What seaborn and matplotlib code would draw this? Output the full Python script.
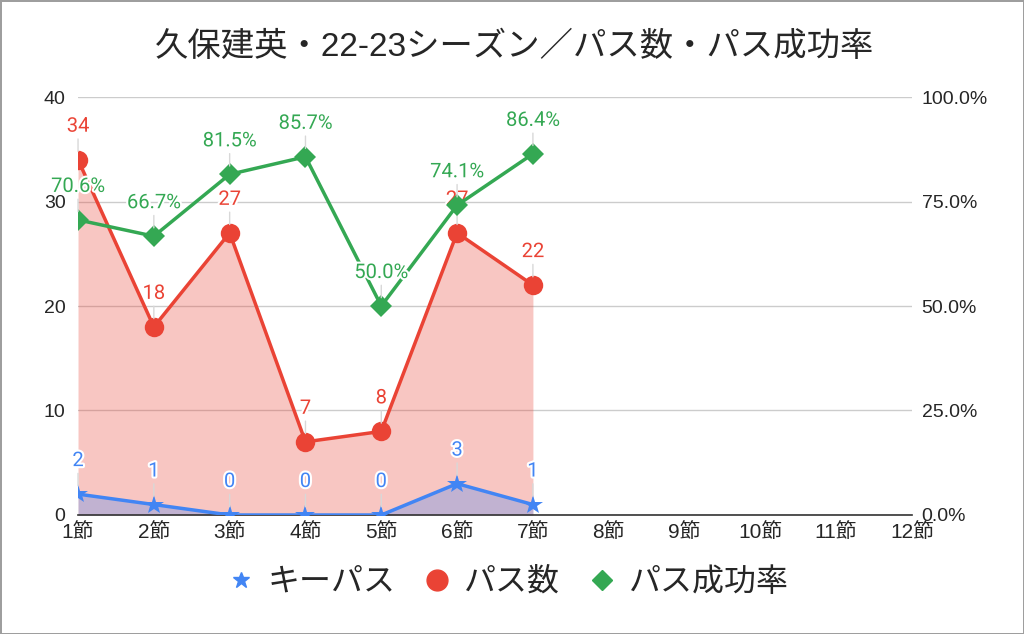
import matplotlib
matplotlib.use('Agg')
import matplotlib.pyplot as plt
import matplotlib.patheffects as pe
from matplotlib.lines import Line2D
import seaborn as sns
import pandas as pd

rounds = ['1節', '2節', '3節', '4節', '5節', '6節', '7節', '8節', '9節', '10節', '11節', '12節']
key_pass = [2, 1, 0, 0, 0, 3, 1]
passes = [34, 18, 27, 7, 8, 27, 22]
pass_rate = [70.6, 66.7, 81.5, 85.7, 50.0, 74.1, 86.4]

BLUE = '#4285f4'
RED = '#ea4335'
GREEN = '#34a853'

sns.set_theme(style="whitegrid")
plt.rcParams['font.family'] = ['Liberation Sans', 'Noto Sans CJK JP', 'DejaVu Sans']

df = pd.DataFrame({
    'x': range(len(passes)),
    'key_pass': key_pass,
    'passes': passes,
    'rate': pass_rate,
})

fig = plt.figure(figsize=(10.24, 6.34), dpi=100)
fig.patch.set_edgecolor('#9e9e9e')
fig.patch.set_linewidth(2)
ax = fig.add_axes([0.0762, 0.1877, 0.8144, 0.6593])
ax2 = ax.twinx()

# filled areas
ax.fill_between(df['x'], df['passes'], 0, color=RED, alpha=0.3, lw=0, zorder=1)
ax.fill_between(df['x'], df['key_pass'], 0, color=BLUE, alpha=0.3, lw=0, zorder=1)

sns.lineplot(data=df, x='x', y='passes', ax=ax, color=RED, lw=2.5, marker='o',
             markersize=14, markeredgewidth=0, zorder=3)
sns.lineplot(data=df, x='x', y='key_pass', ax=ax, color=BLUE, lw=2.5, marker='*',
             markersize=15, markeredgewidth=0, zorder=3)
sns.lineplot(data=df, x='x', y='rate', ax=ax2, color=GREEN, lw=2.5, marker='D',
             markersize=11, markeredgewidth=0, zorder=3)

outline = [pe.withStroke(linewidth=3, foreground='white')]

def label_points(a, xs, ys, texts, color, off=24):
    for xv, yv, t in zip(xs, ys, texts):
        a.annotate(t, (xv, yv), xytext=(0, off), textcoords='offset pixels',
                   ha='center', va='bottom', color=color, fontsize=14.5, family=['Roboto', 'DejaVu Sans'],
                   path_effects=outline, zorder=6,
                   arrowprops=dict(arrowstyle='-', color='#d8d8d8', lw=1, shrinkA=0, shrinkB=6))

label_points(ax, df['x'], df['passes'], [str(v) for v in passes], RED)
label_points(ax, df['x'], df['key_pass'], [str(v) for v in key_pass], BLUE)
label_points(ax2, df['x'], df['rate'], [f'{v:.1f}%' for v in pass_rate], GREEN)

ax.set_xlim(0, len(rounds) - 1)
ax.set_xticks(range(len(rounds)))
ax.set_xticklabels(rounds, fontsize=15)
ax.set_ylim(0, 40)
ax.set_yticks([0, 10, 20, 30, 40])
ax.tick_params(axis='y', labelsize=14, pad=9, length=0)
ax.tick_params(axis='x', pad=6, length=0)
ax2.set_ylim(0, 100)
ax2.set_yticks([0, 25, 50, 75, 100])
ax2.set_yticklabels([f'{v:.1f}%' for v in [0, 25, 50, 75, 100]])
ax2.tick_params(axis='y', labelsize=14, pad=7, length=0)
ax2.grid(False)
ax.grid(axis='x', visible=False)
ax.grid(axis='y', color='#cccccc', lw=1)
ax.set_xlabel('')
ax.set_ylabel('')
ax2.set_ylabel('')
for a in (ax, ax2):
    for s in a.spines.values():
        s.set_visible(False)
ax.spines['bottom'].set_visible(True)
ax.spines['bottom'].set_color('#333333')
ax.spines['bottom'].set_linewidth(1.2)

fig.text(0.503, 0.925, '久保建英・22-23シーズン／パス数・パス成功率', ha='center', va='center',
         fontsize=24, family=['Liberation Sans', 'Noto Sans CJK JP'])

handles = [
    Line2D([], [], color=BLUE, marker='*', ls='', markersize=12),
    Line2D([], [], color=RED, marker='o', ls='', markersize=15),
    Line2D([], [], color=GREEN, marker='D', ls='', markersize=10),
]
fig.legend(handles, ['キーパス', 'パス数', 'パス成功率'], loc='center', bbox_to_anchor=(0.495, 0.082),
           ncol=3, frameon=False, handlelength=1.0, handletextpad=0.35, columnspacing=0.8,
           prop={'family': ['Noto Sans CJK JP'], 'size': 23})

fig.savefig('out.png', dpi=100, edgecolor=fig.get_edgecolor())
